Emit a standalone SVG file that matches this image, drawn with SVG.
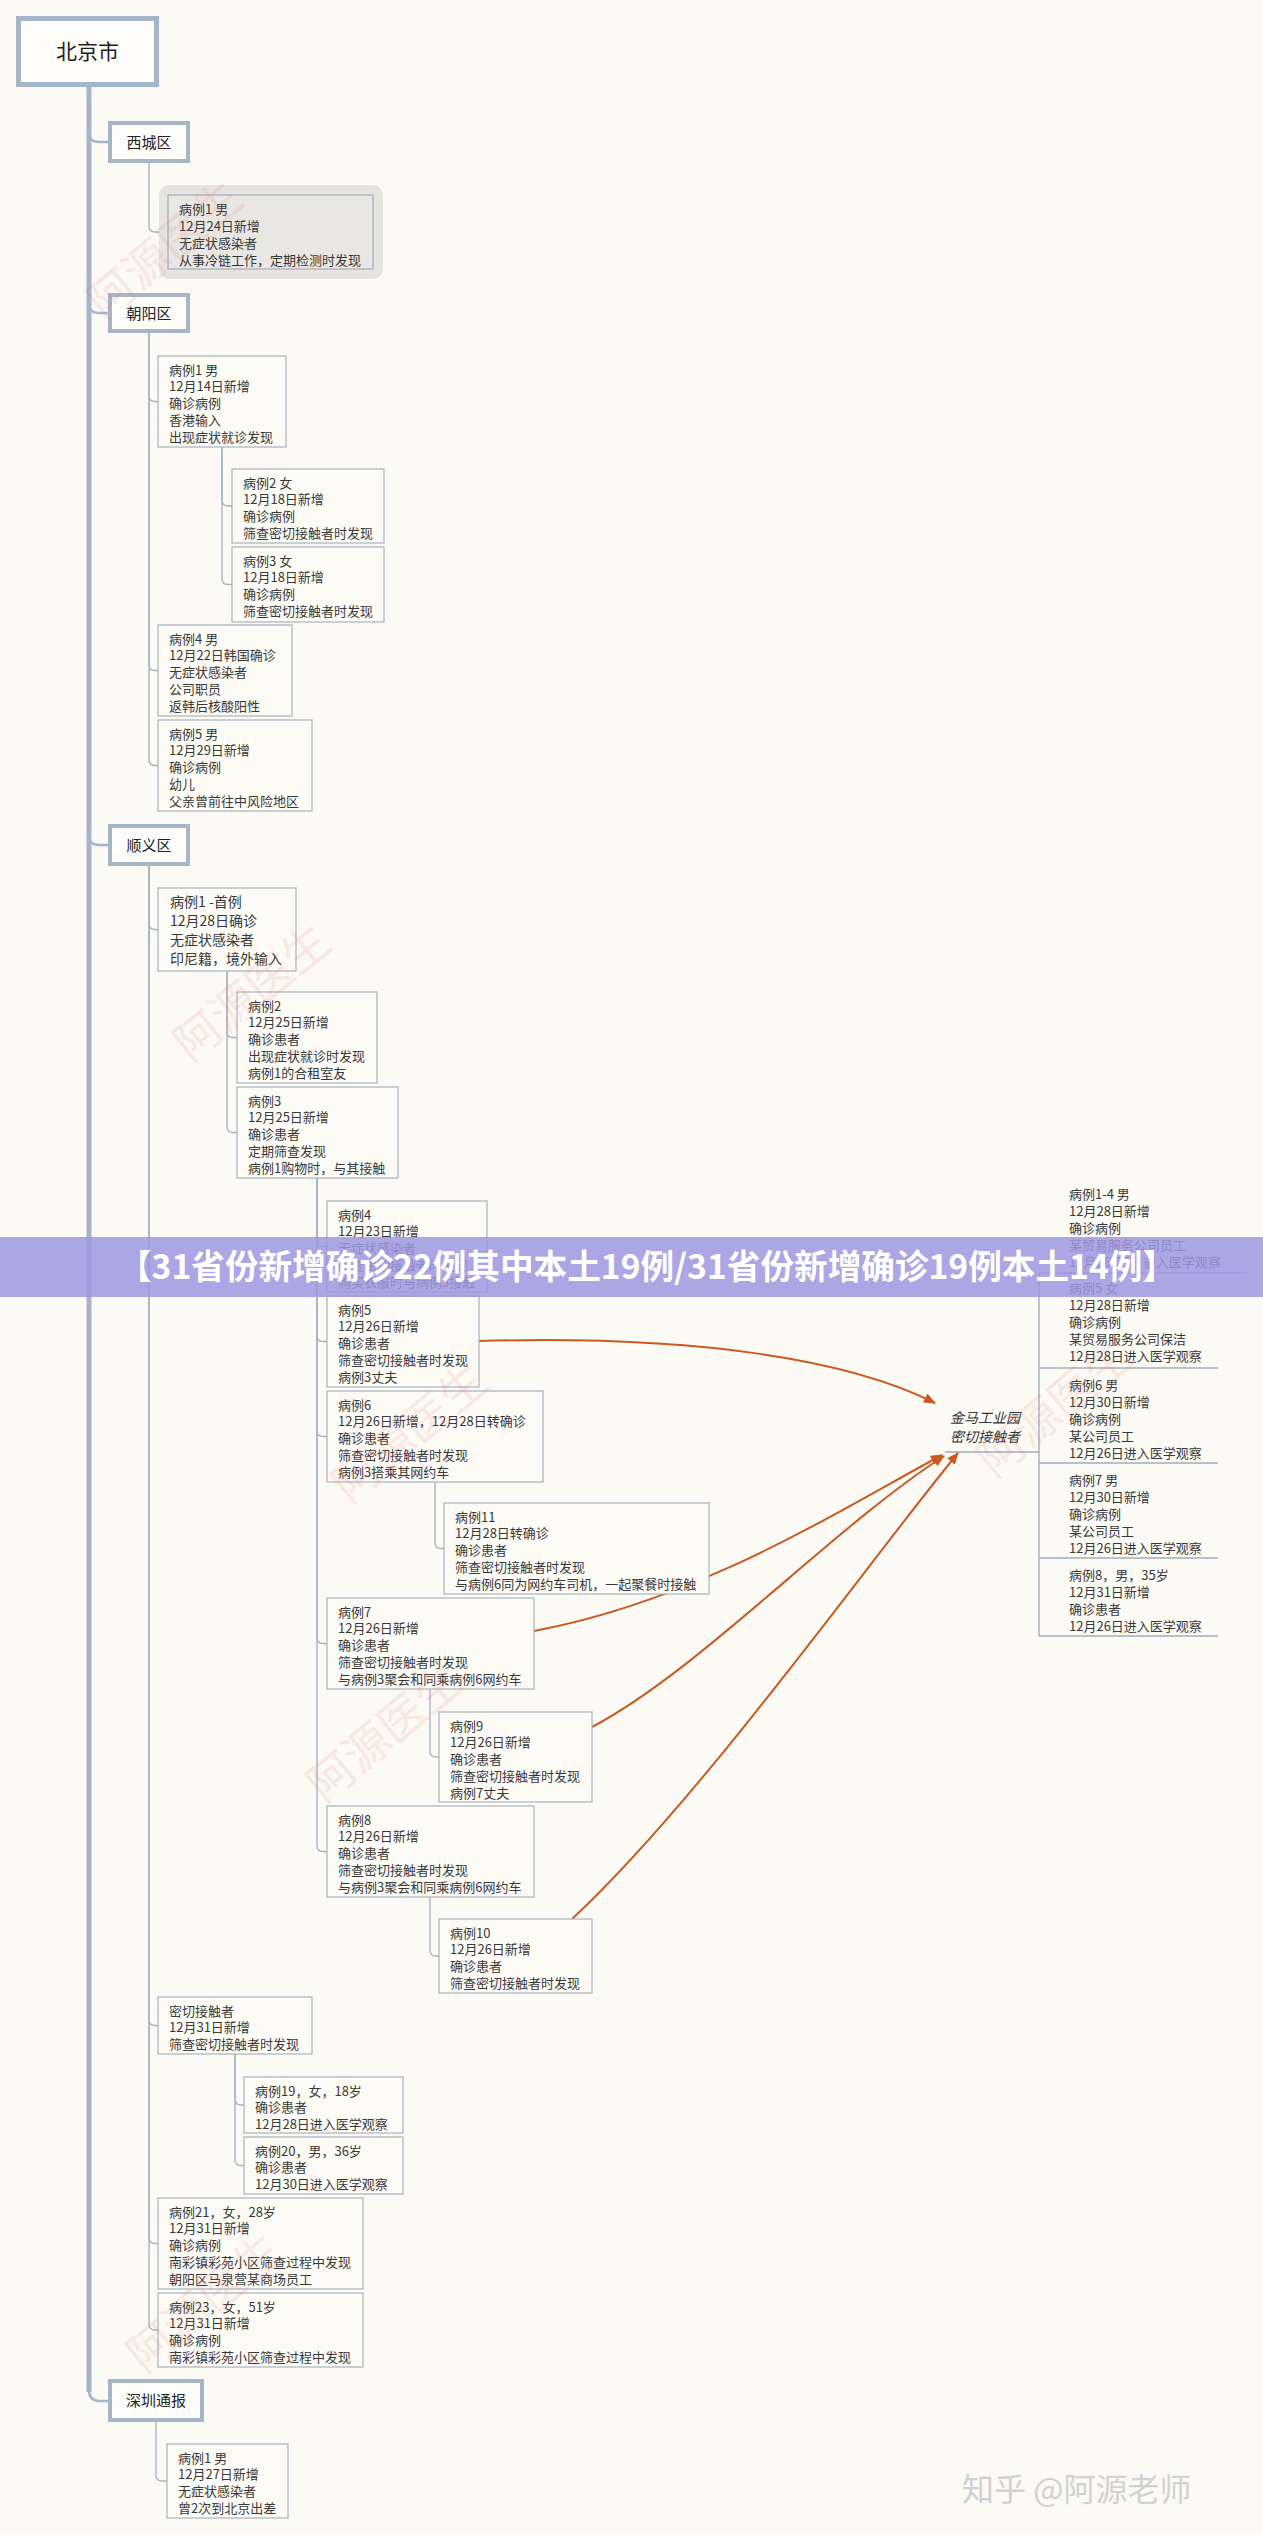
<svg xmlns="http://www.w3.org/2000/svg" width="1263" height="2535" viewBox="0 0 1263 2535">
<defs>
<style>
.t{font-family:"Noto Sans CJK SC","Noto Sans",sans-serif;font-size:13px;fill:#383838}
.t14{font-family:"Noto Sans CJK SC","Noto Sans",sans-serif;font-size:14px;fill:#383838}
.dt{font-family:"Noto Sans CJK SC","Noto Sans",sans-serif;font-size:15px;fill:#222;text-anchor:middle}
.dist{fill:#fdfcf8;stroke:#a6b5c8;stroke-width:4}
.case{fill:#fdfbf6;stroke:#a9b2be;stroke-width:1.2}
.conn{fill:none;stroke:#a9b5c5;stroke-width:1.4}
.tr{fill:none;stroke:#a6b5c9;stroke-width:2.5}
.ul{fill:none;stroke:#a3adbb;stroke-width:1.4}
.or{fill:none;stroke:#c85a22;stroke-width:2}
.wm{font-family:"Noto Sans CJK SC",sans-serif;font-size:46px;fill:#e07070;opacity:0.12}
</style>
<marker id="ah" viewBox="0 0 12 10" refX="11" refY="5" markerWidth="12" markerHeight="10" markerUnits="userSpaceOnUse" orient="auto">
<path d="M0,0 L12,5 L0,10 Z" fill="#c85a22"/>
</marker>
</defs>
<rect x="0" y="0" width="1263" height="2535" fill="#fcfaf4"/>

<g id="connectors">
<line x1="89" y1="86" x2="89" y2="2392" stroke="#a6b5c9" stroke-width="5"/>
<path class="tr" d="M89,132 Q89,142 99,142 H108"/>
<path class="tr" d="M89,303 Q89,313 99,313 H108"/>
<path class="tr" d="M89,835 Q89,845 99,845 H108"/>
<path class="tr" d="M89,2390 Q89,2401 100,2401 H108"/>
<path class="conn" d="M149,163 V226 Q149,232 155,232 H168"/>
<path class="conn" d="M149,333 V395.5 Q149,401.5 155,401.5 H158"/>
<path class="conn" d="M149,333 V664.5 Q149,670.5 155,670.5 H158"/>
<path class="conn" d="M149,333 V759.5 Q149,765.5 155,765.5 H158"/>
<path class="conn" d="M222,447 V500 Q222,506 228,506 H232"/>
<path class="conn" d="M222,447 V578.5 Q222,584.5 228,584.5 H232"/>
<path class="conn" d="M149,866 V923.5 Q149,929.5 155,929.5 H158"/>
<path class="conn" d="M149,866 V2019.5 Q149,2025.5 155,2025.5 H158"/>
<path class="conn" d="M149,866 V2237.5 Q149,2243.5 155,2243.5 H158"/>
<path class="conn" d="M149,866 V2324 Q149,2330 155,2330 H158"/>
<path class="conn" d="M227,971 V1031.5 Q227,1037.5 233,1037.5 H237"/>
<path class="conn" d="M227,971 V1126.5 Q227,1132.5 233,1132.5 H237"/>
<path class="conn" d="M317,1178 V1240.5 Q317,1246.5 323,1246.5 H327"/>
<path class="conn" d="M317,1178 V1335.5 Q317,1341.5 323,1341.5 H327"/>
<path class="conn" d="M317,1178 V1430.5 Q317,1436.5 323,1436.5 H327"/>
<path class="conn" d="M317,1178 V1637.5 Q317,1643.5 323,1643.5 H327"/>
<path class="conn" d="M317,1178 V1845.5 Q317,1851.5 323,1851.5 H327"/>
<path class="conn" d="M435,1482 V1542.5 Q435,1548.5 441,1548.5 H444"/>
<path class="conn" d="M430,1689 V1751 Q430,1757 436,1757 H439"/>
<path class="conn" d="M430,1897 V1950 Q430,1956 436,1956 H439"/>
<path class="conn" d="M235,2054 V2099 Q235,2105 241,2105 H244"/>
<path class="conn" d="M235,2054 V2159.5 Q235,2165.5 241,2165.5 H244"/>
<path class="conn" d="M156,2422 V2475 Q156,2481 162,2481 H167"/>
<path class="ul" d="M945,1452 H1039"/>
<path class="ul" d="M1039,1273 V1636"/>
<path class="ul" d="M1039,1273 H1247"/>
<path class="ul" d="M1039,1368 H1218"/>
<path class="ul" d="M1039,1463 H1218"/>
<path class="ul" d="M1039,1558 H1218"/>
<path class="ul" d="M1039,1636 H1218"/>
<path class="or" marker-end="url(#ah)" d="M479,1341 C700,1335 850,1360 935,1403"/>
<path class="or" marker-end="url(#ah)" d="M534,1631 C700,1600 840,1510 942,1455"/>
<path class="or" marker-end="url(#ah)" d="M592,1727 C700,1670 830,1530 944,1456"/>
<path class="or" marker-end="url(#ah)" d="M572,1919 C700,1800 870,1560 958,1453"/>
</g>

<g id="beijing">
<rect x="18.5" y="18.5" width="138" height="66" fill="#fdfcf8" stroke="#a6b5c8" stroke-width="5"/>
<text x="87.5" y="59" font-family="Noto Sans CJK SC, sans-serif" font-size="21" fill="#1e1e1e" text-anchor="middle">北京市</text>
</g>

<g id="xicheng">
<rect class="dist" x="110" y="123" width="78" height="38"/>
<text class="dt" x="149" y="148">西城区</text>
</g>
<g id="xicheng-case1">
<rect x="159" y="185" width="224" height="94" rx="10" fill="#e6e4df"/>
<rect x="168" y="195" width="205" height="74" fill="#e9e7e3" stroke="#a5abb3" stroke-width="1.2"/>
<text class="t"><tspan x="179" y="213.5">病例1 男</tspan><tspan x="179" y="230.5">12月24日新增</tspan><tspan x="179" y="247.5">无症状感染者</tspan><tspan x="179" y="264.5">从事冷链工作，定期检测时发现</tspan></text>
</g>

<g id="chaoyang">
<rect class="dist" x="110" y="295" width="78" height="36"/>
<text class="dt" x="149" y="318.5">朝阳区</text>
</g>
<g id="cy-case1">
<rect class="case" x="158" y="356" width="128" height="91"/>
<text class="t"><tspan x="169" y="374.5">病例1 男</tspan><tspan x="169" y="391.4">12月14日新增</tspan><tspan x="169" y="408.3">确诊病例</tspan><tspan x="169" y="425.2">香港输入</tspan><tspan x="169" y="442.1">出现症状就诊发现</tspan></text>
</g>
<g id="cy-case2">
<rect class="case" x="232" y="469" width="152" height="74"/>
<text class="t"><tspan x="243" y="487.5">病例2 女</tspan><tspan x="243" y="504.4">12月18日新增</tspan><tspan x="243" y="521.3">确诊病例</tspan><tspan x="243" y="538.2">筛查密切接触者时发现</tspan></text>
</g>
<g id="cy-case3">
<rect class="case" x="232" y="547" width="152" height="75"/>
<text class="t"><tspan x="243" y="565.5">病例3 女</tspan><tspan x="243" y="582.4">12月18日新增</tspan><tspan x="243" y="599.3">确诊病例</tspan><tspan x="243" y="616.2">筛查密切接触者时发现</tspan></text>
</g>
<g id="cy-case4">
<rect class="case" x="158" y="625" width="134" height="91"/>
<text class="t"><tspan x="169" y="643.5">病例4 男</tspan><tspan x="169" y="660.4">12月22日韩国确诊</tspan><tspan x="169" y="677.3">无症状感染者</tspan><tspan x="169" y="694.2">公司职员</tspan><tspan x="169" y="711.1">返韩后核酸阳性</tspan></text>
</g>
<g id="cy-case5">
<rect class="case" x="158" y="720" width="154" height="91"/>
<text class="t"><tspan x="169" y="738.5">病例5 男</tspan><tspan x="169" y="755.4">12月29日新增</tspan><tspan x="169" y="772.3">确诊病例</tspan><tspan x="169" y="789.2">幼儿</tspan><tspan x="169" y="806.1">父亲曾前往中风险地区</tspan></text>
</g>

<g id="shunyi">
<rect class="dist" x="110" y="826" width="78" height="38"/>
<text class="dt" x="149" y="850.5">顺义区</text>
</g>
<g id="sy-case1">
<rect class="case" x="158" y="888" width="138" height="83"/>
<text class="t14"><tspan x="170" y="907">病例1 -首例</tspan><tspan x="170" y="926">12月28日确诊</tspan><tspan x="170" y="945">无症状感染者</tspan><tspan x="170" y="964">印尼籍，境外输入</tspan></text>
</g>
<g id="sy-case2">
<rect class="case" x="237" y="992" width="140" height="91"/>
<text class="t"><tspan x="248" y="1010.5">病例2</tspan><tspan x="248" y="1027.4">12月25日新增</tspan><tspan x="248" y="1044.3">确诊患者</tspan><tspan x="248" y="1061.2">出现症状就诊时发现</tspan><tspan x="248" y="1078.1">病例1的合租室友</tspan></text>
</g>
<g id="sy-case3">
<rect class="case" x="237" y="1087" width="161" height="91"/>
<text class="t"><tspan x="248" y="1105.5">病例3</tspan><tspan x="248" y="1122.4">12月25日新增</tspan><tspan x="248" y="1139.3">确诊患者</tspan><tspan x="248" y="1156.2">定期筛查发现</tspan><tspan x="248" y="1173.1">病例1购物时，与其接触</tspan></text>
</g>
<g id="sy-case4">
<rect class="case" x="327" y="1201" width="160" height="91"/>
<text class="t"><tspan x="338" y="1219.5">病例4</tspan><tspan x="338" y="1236.4">12月23日新增</tspan><tspan x="338" y="1253.3">无症状感染者</tspan><tspan x="338" y="1270.2">筛查密切接触者时发现</tspan><tspan x="338" y="1287.1">购买衣服时与病例3接触</tspan></text>
</g>
<g id="sy-case5">
<rect class="case" x="327" y="1296" width="152" height="91"/>
<text class="t"><tspan x="338" y="1314.5">病例5</tspan><tspan x="338" y="1331.4">12月26日新增</tspan><tspan x="338" y="1348.3">确诊患者</tspan><tspan x="338" y="1365.2">筛查密切接触者时发现</tspan><tspan x="338" y="1382.1">病例3丈夫</tspan></text>
</g>
<g id="sy-case6">
<rect class="case" x="327" y="1391" width="216" height="91"/>
<text class="t"><tspan x="338" y="1409.5">病例6</tspan><tspan x="338" y="1426.4">12月26日新增，12月28日转确诊</tspan><tspan x="338" y="1443.3">确诊患者</tspan><tspan x="338" y="1460.2">筛查密切接触者时发现</tspan><tspan x="338" y="1477.1">病例3搭乘其网约车</tspan></text>
</g>
<g id="sy-case11">
<rect class="case" x="444" y="1503" width="265" height="91"/>
<text class="t"><tspan x="455" y="1521.5">病例11</tspan><tspan x="455" y="1538.4">12月28日转确诊</tspan><tspan x="455" y="1555.3">确诊患者</tspan><tspan x="455" y="1572.2">筛查密切接触者时发现</tspan><tspan x="455" y="1589.1">与病例6同为网约车司机，一起聚餐时接触</tspan></text>
</g>
<g id="sy-case7">
<rect class="case" x="327" y="1598" width="207" height="91"/>
<text class="t"><tspan x="338" y="1616.5">病例7</tspan><tspan x="338" y="1633.4">12月26日新增</tspan><tspan x="338" y="1650.3">确诊患者</tspan><tspan x="338" y="1667.2">筛查密切接触者时发现</tspan><tspan x="338" y="1684.1">与病例3聚会和同乘病例6网约车</tspan></text>
</g>
<g id="sy-case9">
<rect class="case" x="439" y="1712" width="153" height="90"/>
<text class="t"><tspan x="450" y="1730.5">病例9</tspan><tspan x="450" y="1747.4">12月26日新增</tspan><tspan x="450" y="1764.3">确诊患者</tspan><tspan x="450" y="1781.2">筛查密切接触者时发现</tspan><tspan x="450" y="1798.1">病例7丈夫</tspan></text>
</g>
<g id="sy-case8">
<rect class="case" x="327" y="1806" width="207" height="91"/>
<text class="t"><tspan x="338" y="1824.5">病例8</tspan><tspan x="338" y="1841.4">12月26日新增</tspan><tspan x="338" y="1858.3">确诊患者</tspan><tspan x="338" y="1875.2">筛查密切接触者时发现</tspan><tspan x="338" y="1892.1">与病例3聚会和同乘病例6网约车</tspan></text>
</g>
<g id="sy-case10">
<rect class="case" x="439" y="1919" width="153" height="74"/>
<text class="t"><tspan x="450" y="1937.5">病例10</tspan><tspan x="450" y="1954.4">12月26日新增</tspan><tspan x="450" y="1971.3">确诊患者</tspan><tspan x="450" y="1988.2">筛查密切接触者时发现</tspan></text>
</g>
<g id="sy-close-contacts">
<rect class="case" x="158" y="1997" width="154" height="57"/>
<text class="t"><tspan x="169" y="2015.5">密切接触者</tspan><tspan x="169" y="2032.4">12月31日新增</tspan><tspan x="169" y="2049.3">筛查密切接触者时发现</tspan></text>
</g>
<g id="sy-case19">
<rect class="case" x="244" y="2077" width="159" height="56"/>
<text class="t"><tspan x="255" y="2095.5">病例19，女，18岁</tspan><tspan x="255" y="2112.4">确诊患者</tspan><tspan x="255" y="2129.3">12月28日进入医学观察</tspan></text>
</g>
<g id="sy-case20">
<rect class="case" x="244" y="2137" width="159" height="57"/>
<text class="t"><tspan x="255" y="2155.5">病例20，男，36岁</tspan><tspan x="255" y="2172.4">确诊患者</tspan><tspan x="255" y="2189.3">12月30日进入医学观察</tspan></text>
</g>
<g id="sy-case21">
<rect class="case" x="158" y="2198" width="205" height="91"/>
<text class="t"><tspan x="169" y="2216.5">病例21，女，28岁</tspan><tspan x="169" y="2233.4">12月31日新增</tspan><tspan x="169" y="2250.3">确诊病例</tspan><tspan x="169" y="2267.2">南彩镇彩苑小区筛查过程中发现</tspan><tspan x="169" y="2284.1">朝阳区马泉营某商场员工</tspan></text>
</g>
<g id="sy-case23">
<rect class="case" x="158" y="2293" width="205" height="74"/>
<text class="t"><tspan x="169" y="2311.5">病例23，女，51岁</tspan><tspan x="169" y="2328.4">12月31日新增</tspan><tspan x="169" y="2345.3">确诊病例</tspan><tspan x="169" y="2362.2">南彩镇彩苑小区筛查过程中发现</tspan></text>
</g>

<g id="shenzhen">
<rect class="dist" x="110" y="2381" width="92" height="39"/>
<text class="dt" x="156" y="2406">深圳通报</text>
</g>
<g id="sz-case1">
<rect class="case" x="167" y="2444" width="121" height="74"/>
<text class="t"><tspan x="178" y="2462.5">病例1 男</tspan><tspan x="178" y="2479.4">12月27日新增</tspan><tspan x="178" y="2496.3">无症状感染者</tspan><tspan x="178" y="2513.2">曾2次到北京出差</tspan></text>
</g>

<g id="jinma">
<text font-family="Noto Sans CJK SC, sans-serif" font-size="14" font-style="italic" fill="#333"><tspan x="950" y="1423">金马工业园</tspan><tspan x="950" y="1442">密切接触者</tspan></text>
</g>
<g id="jm-item1">
<text class="t"><tspan x="1069" y="1198.5">病例1-4 男</tspan><tspan x="1069" y="1215.5">12月28日新增</tspan><tspan x="1069" y="1232.5">确诊病例</tspan><tspan x="1069" y="1249.5">某贸易服务公司员工</tspan><tspan x="1069" y="1266.5">12月26-27日进入医学观察</tspan></text>
</g>
<g id="jm-item2">
<text class="t"><tspan x="1069" y="1292.5">病例5 女</tspan><tspan x="1069" y="1309.5">12月28日新增</tspan><tspan x="1069" y="1326.5">确诊病例</tspan><tspan x="1069" y="1343.5">某贸易服务公司保洁</tspan><tspan x="1069" y="1360.5">12月28日进入医学观察</tspan></text>
</g>
<g id="jm-item3">
<text class="t"><tspan x="1069" y="1389.5">病例6 男</tspan><tspan x="1069" y="1406.5">12月30日新增</tspan><tspan x="1069" y="1423.5">确诊病例</tspan><tspan x="1069" y="1440.5">某公司员工</tspan><tspan x="1069" y="1457.5">12月26日进入医学观察</tspan></text>
</g>
<g id="jm-item4">
<text class="t"><tspan x="1069" y="1484.5">病例7 男</tspan><tspan x="1069" y="1501.5">12月30日新增</tspan><tspan x="1069" y="1518.5">确诊病例</tspan><tspan x="1069" y="1535.5">某公司员工</tspan><tspan x="1069" y="1552.5">12月26日进入医学观察</tspan></text>
</g>
<g id="jm-item5">
<text class="t"><tspan x="1069" y="1579.5">病例8，男，35岁</tspan><tspan x="1069" y="1596.5">12月31日新增</tspan><tspan x="1069" y="1613.5">确诊患者</tspan><tspan x="1069" y="1630.5">12月26日进入医学观察</tspan></text>
</g>

<g id="watermarks">
<text class="wm" transform="translate(175,262) rotate(-40)" text-anchor="middle">阿源医生</text>
<text class="wm" transform="translate(262,1005) rotate(-39)" text-anchor="middle">阿源医生</text>
<text class="wm" transform="translate(420,1445) rotate(-40)" text-anchor="middle">阿源医生</text>
<text class="wm" transform="translate(1065,1420) rotate(-40)" text-anchor="middle">阿源医生</text>
<text class="wm" transform="translate(395,1745) rotate(-40)" text-anchor="middle">阿源医生</text>
<text class="wm" transform="translate(215,2315) rotate(-40)" text-anchor="middle">阿源医生</text>
</g>

<g id="banner">
<rect x="0" y="1237" width="1263" height="60" fill="#9d98e0" opacity="0.85"/>
<text x="118" y="1279" font-family="Noto Sans CJK SC, sans-serif" font-size="34" font-weight="bold" fill="#ffffff" textLength="1058" lengthAdjust="spacingAndGlyphs">【31省份新增确诊22例其中本土19例/31省份新增确诊19例本土14例】</text>
</g>
<text x="962" y="2501" font-family="Noto Sans CJK SC, sans-serif" font-size="32" fill="#d2d2d2">知乎 @阿源老师</text>
</svg>
